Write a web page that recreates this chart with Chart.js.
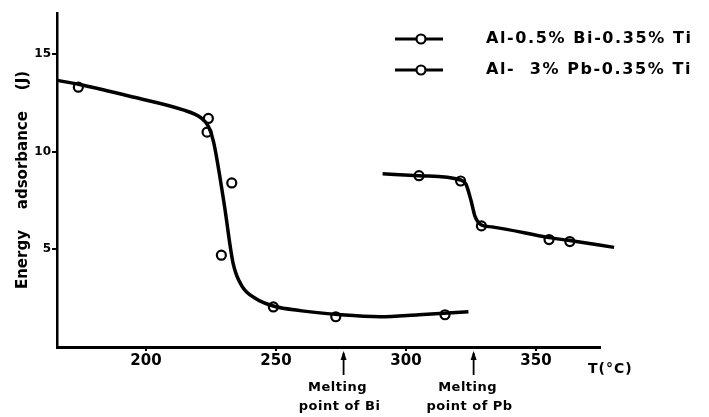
<!DOCTYPE html>
<html>
<head>
<meta charset="utf-8">
<script src="https://cdn.jsdelivr.net/npm/chart.js@4/dist/chart.umd.min.js"></script>
<style>
  html, body { margin: 0; padding: 0; background: #fff; }
  #wrap { width: 709px; height: 417px; }
</style>
</head>
<body>
<div id="wrap"><canvas id="chart"></canvas></div>
<script>
// measured points (open circles)
const biTemps  = [174, 223.5, 224, 229, 233, 249, 273, 315];
const biEnergy = [13.3, 11.0, 11.7, 4.7, 8.4, 2.05, 1.55, 1.65];
const pbTemps  = [305, 321, 329, 355, 363];
const pbEnergy = [8.77, 8.5, 6.2, 5.5, 5.4];

// hand-drawn trend curves
const biCurveT = [165.8, 174, 195, 214, 221, 224, 226, 230, 233.5, 237, 242, 249, 260, 275, 290, 305, 324];
const biCurveE = [13.65, 13.45, 12.8, 12.15, 11.75, 11.3, 10.5, 7.4, 4.3, 3.1, 2.5, 2.1, 1.85, 1.65, 1.55, 1.65, 1.8];
const pbCurveT = [291, 305, 321, 323, 325, 326.5, 329, 333, 355, 363, 380];
const pbCurveE = [8.87, 8.77, 8.55, 8.35, 7.5, 6.7, 6.25, 6.15, 5.6, 5.45, 5.1];

const xTicks = [200, 250, 300, 350];
const yTicks = [5, 10, 15];
const seriesNames = ['Al-0.5% Bi-0.35% Ti', 'Al-  3% Pb-0.35% Ti'];
// arrows as placed on the figure
const meltTemps = [276, 326];
const meltNames = ['point of Bi', 'point of Pb'];

const FONT = '"DejaVu Sans", sans-serif';

const toXY = (xs, ys) => xs.map((x, i) => ({ x: x, y: ys[i] }));

const extras = {
    id: 'extras',
    afterDraw(chart) {
        const ctx = chart.ctx;
        const xs = chart.scales.x;
        ctx.save();
        ctx.fillStyle = '#000';
        ctx.strokeStyle = '#000';

        // legend
        ctx.font = 'bold 16px ' + FONT;
        ctx.letterSpacing = '1.6px';
        ctx.textBaseline = 'middle';
        ctx.textAlign = 'left';
        [39, 70].forEach((y, i) => {
            ctx.lineWidth = 3;
            ctx.beginPath();
            ctx.moveTo(395, y);
            ctx.lineTo(443, y);
            ctx.stroke();
            ctx.beginPath();
            ctx.arc(421, y, 4.5, 0, Math.PI * 2);
            ctx.fillStyle = '#fff';
            ctx.fill();
            ctx.lineWidth = 2.2;
            ctx.stroke();
            ctx.fillStyle = '#000';
            ctx.fillText(seriesNames[i], 486, y);
        });

        // axis unit
        ctx.letterSpacing = '1px';
        ctx.font = 'bold 14px ' + FONT;
        ctx.fillText('T(°C)', 588, 369);

        // melting point arrows
        ctx.textAlign = 'center';
        ctx.letterSpacing = '0.5px';
        ctx.font = 'bold 13px ' + FONT;
        meltTemps.forEach((t, i) => {
            const px = xs.getPixelForValue(t);
            ctx.lineWidth = 1.8;
            ctx.beginPath();
            ctx.moveTo(px, 375);
            ctx.lineTo(px, 353);
            ctx.stroke();
            ctx.beginPath();
            ctx.moveTo(px - 3, 360);
            ctx.lineTo(px, 351);
            ctx.lineTo(px + 3, 360);
            ctx.closePath();
            ctx.fill();
            ctx.fillText('Melting', px - 6, 388);
            ctx.fillText(meltNames[i], px - 4, 407);
        });
        ctx.restore();
    }
};

const circle = {
    showLine: false,
    pointStyle: 'circle',
    pointRadius: 4.5,
    pointBorderWidth: 2.2,
    pointBorderColor: '#000',
    pointBackgroundColor: '#fff',
    clip: false
};
const curve = {
    showLine: true,
    borderColor: '#000',
    borderWidth: 3.5,
    pointRadius: 0,
    cubicInterpolationMode: 'monotone',
    clip: false
};

new Chart(document.getElementById('chart'), {
    type: 'scatter',
    data: {
        datasets: [
            { ...curve, label: 'bi curve', data: toXY(biCurveT, biCurveE) },
            { ...curve, label: 'pb curve', data: toXY(pbCurveT, pbCurveE) },
            { ...circle, label: seriesNames[0], data: toXY(biTemps, biEnergy) },
            { ...circle, label: seriesNames[1], data: toXY(pbTemps, pbEnergy) }
        ]
    },
    options: {
        responsive: true,
        maintainAspectRatio: false,
        animation: false,
        layout: { padding: { top: 13, right: 109, left: 0, bottom: 0 } },
        plugins: { legend: { display: false }, tooltip: { enabled: false } },
        scales: {
            x: {
                type: 'linear',
                min: 165.8,
                max: 374.6,
                afterBuildTicks: (s) => { s.ticks = xTicks.map(v => ({ value: v })); },
                afterFit: (s) => { s.height = 70; },
                grid: { display: true, drawOnChartArea: false, drawTicks: true, tickLength: 4, lineWidth: 2, color: '#000' },
                border: { display: true, color: '#000', width: 3 },
                ticks: { color: '#000', padding: 1, maxRotation: 0, font: { family: FONT, size: 15, weight: 'bold' } }
            },
            y: {
                min: 0,
                max: 17.1,
                afterBuildTicks: (s) => { s.ticks = yTicks.map(v => ({ value: v })); },
                afterFit: (s) => { s.width = 57; },
                grid: { display: true, drawOnChartArea: false, drawTicks: true, tickLength: 5, lineWidth: 2, color: '#000' },
                border: { display: true, color: '#000', width: 2.5 },
                ticks: { color: '#000', padding: 1, font: { family: FONT, size: 12, weight: 'bold' } },
                title: {
                    display: true,
                    text: 'Energy    adsorbance    (J)',
                    color: '#000',
                    padding: { top: 14, bottom: 0 },
                    font: { family: FONT, size: 15, weight: 'bold' }
                }
            }
        }
    },
    plugins: [extras]
});
</script>
</body>
</html>
